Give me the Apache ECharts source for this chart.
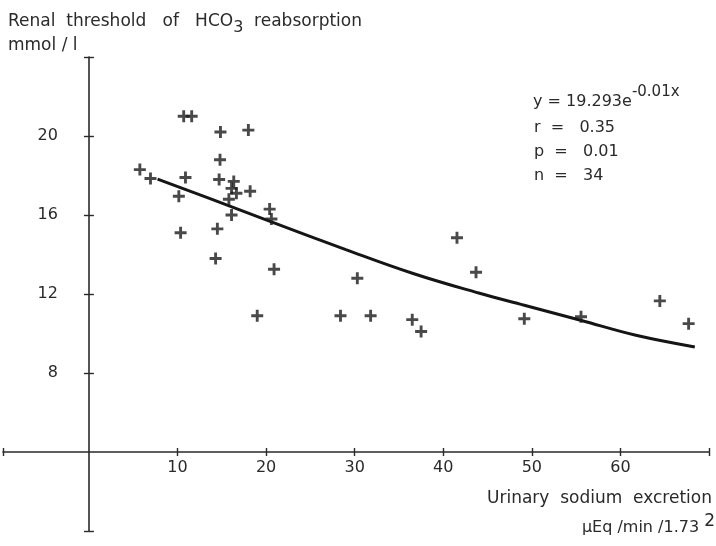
<!DOCTYPE html>
<html>
<head>
<meta charset="utf-8">
<script src="https://cdn.jsdelivr.net/npm/echarts@6/dist/echarts.min.js"></script>
<style>
html,body{margin:0;padding:0;background:#fff;}
#c{width:716px;height:546px;}
</style>
</head>
<body>
<div id="c"></div>
<script>
// Urinary sodium excretion (µEq/min/1.73 m²) and renal HCO3 threshold (mmol/l)
const sodium = [10.7, 11.6, 14.85, 18.0, 14.8, 5.75, 6.95, 10.9, 14.7, 16.35, 16.1, 16.65, 18.2, 10.15, 15.8, 20.4, 16.1,
  20.6, 10.35, 14.5, 14.3, 20.9, 19.0, 41.55, 43.7, 30.3, 28.4, 31.8, 36.5, 37.5, 49.15, 55.55, 64.45, 67.7];
const threshold = [21.0, 21.0, 20.2, 20.3, 18.8, 18.3, 17.85, 17.9, 17.8, 17.7, 17.35, 17.1, 17.2, 16.95, 16.8, 16.3, 16.0,
  15.8, 15.1, 15.3, 13.8, 13.25, 10.9, 14.85, 13.1, 12.8, 10.9, 10.9, 10.7, 10.1, 10.75, 10.85, 11.65, 10.5];

// fitted curve
const fitSodium = [7.75, 13.6, 20.0, 29.0, 36.6, 44.0, 49.15, 55.5, 61.75, 68.4];
const fitThreshold = [17.82, 16.84, 15.75, 14.25, 13.04, 12.05, 11.43, 10.67, 9.91, 9.32];

// axes
const xMin = -9.7, xMax = 70;
const yMin = 0, yMax = 24;
const xTicks = [-9.7, 10, 20, 30, 40, 50, 60, 70];
const xLabels = [10, 20, 30, 40, 50, 60];
const yTicks = [0, 8, 12, 16, 20, 24];
const yLabels = [8, 12, 16, 20];
const xAxisAtY = 4;   // the horizontal axis crosses at y = 4
const yAxisAtX = 0;   // the vertical axis crosses at x = 0

const FONT = '"DejaVu Sans", sans-serif';
const INK = '#2a2a2a';
const PLUS = 'path://M3.8,0H6.2V3.8H10V6.2H6.2V10H3.8V6.2H0V3.8H3.8Z';

const chart = echarts.init(document.getElementById('c'), null, {renderer: 'canvas'});

function xAxisDef(main) {
  return {
    type: 'value', min: xMin, max: xMax, position: 'bottom',
    axisLine: {show: main, onZero: false, lineStyle: {color: INK, width: 1.6}},
    axisTick: {show: true, inside: !main, length: 4, customValues: xTicks, lineStyle: {color: INK, width: 1.4}},
    axisLabel: {show: main, customValues: xLabels, color: INK, fontSize: 16, fontFamily: FONT, margin: 8},
    splitLine: {show: false}
  };
}
function yAxisDef(main) {
  return {
    type: 'value', min: yMin, max: yMax, position: 'left',
    axisLine: {show: main, onZero: false, lineStyle: {color: INK, width: 1.6}},
    axisTick: {show: true, inside: !main, length: 5, customValues: yTicks, lineStyle: {color: INK, width: 1.4}},
    axisLabel: {show: main, customValues: yLabels, color: INK, fontSize: 16, fontFamily: FONT, margin: 31},
    splitLine: {show: false}
  };
}

const scatterData = sodium.map((x, i) => [x, threshold[i]]);
const fitData = fitSodium.map((x, i) => [x, fitThreshold[i]]);

const txt = {fill: INK, fontFamily: FONT};
const r = (size, extra) => Object.assign({fontSize: size, fontFamily: FONT, fill: INK, color: INK}, extra || {});

const option = {
  backgroundColor: '#ffffff',
  animation: false,
  grid: {left: 3, right: 7, top: 57, bottom: 15, containLabel: false, outerBoundsMode: 'none'},
  xAxis: [xAxisDef(true), xAxisDef(false)],
  yAxis: [yAxisDef(true), yAxisDef(false)],
  graphic: [
    {type: 'text', left: 8, top: 13, style: Object.assign({}, txt, {
      text: '{t|Renal  threshold   of   HCO}{s|3}{t|  reabsorption}',
      rich: {t: r(17), s: r(16, {padding: [12, 0, 0, 0]})}
    })},
    {type: 'text', left: 8, top: 37, style: Object.assign({}, txt, {text: 'mmol / l', fontSize: 17})},
    {type: 'text', left: 533, top: 85, style: Object.assign({}, txt, {
      text: '{n|y = 19.293e}{p|-0.01x}',
      rich: {n: r(16), p: r(15, {padding: [0, 0, 18, 0]})}
    })},
    {type: 'text', left: 534, top: 120, style: Object.assign({}, txt, {text: 'r  =   0.35', fontSize: 16})},
    {type: 'text', left: 534, top: 144, style: Object.assign({}, txt, {text: 'p  =   0.01', fontSize: 16})},
    {type: 'text', left: 534, top: 168, style: Object.assign({}, txt, {text: 'n  =   34', fontSize: 16})},
    {type: 'text', right: 4, top: 490, style: Object.assign({}, txt, {text: 'Urinary  sodium  excretion', fontSize: 17})},
    {type: 'text', right: 1, top: 513, style: Object.assign({}, txt, {
      text: '{n|\u00b5Eq /min /1.73 }{p|2}',
      rich: {n: r(16), p: r(17, {padding: [0, 0, 12, 0]})}
    })}
  ],
  series: [
    {
      type: 'line', data: fitData, smooth: 0.4, showSymbol: false, symbol: 'none',
      lineStyle: {color: '#151515', width: 3}, z: 2, silent: true
    },
    {
      type: 'scatter', data: scatterData, symbol: PLUS, symbolSize: 12,
      itemStyle: {color: '#1c1c1c'}, z: 3, silent: true
    }
  ]
};

chart.setOption(option);
const offX = chart.convertToPixel({yAxisIndex: 0}, xAxisAtY) - chart.convertToPixel({yAxisIndex: 0}, yMin);
const offY = chart.convertToPixel({xAxisIndex: 0}, xMin) - chart.convertToPixel({xAxisIndex: 0}, yAxisAtX);
chart.setOption({xAxis: [{offset: offX}, {offset: offX}], yAxis: [{offset: offY}, {offset: offY}]});
</script>
</body>
</html>
